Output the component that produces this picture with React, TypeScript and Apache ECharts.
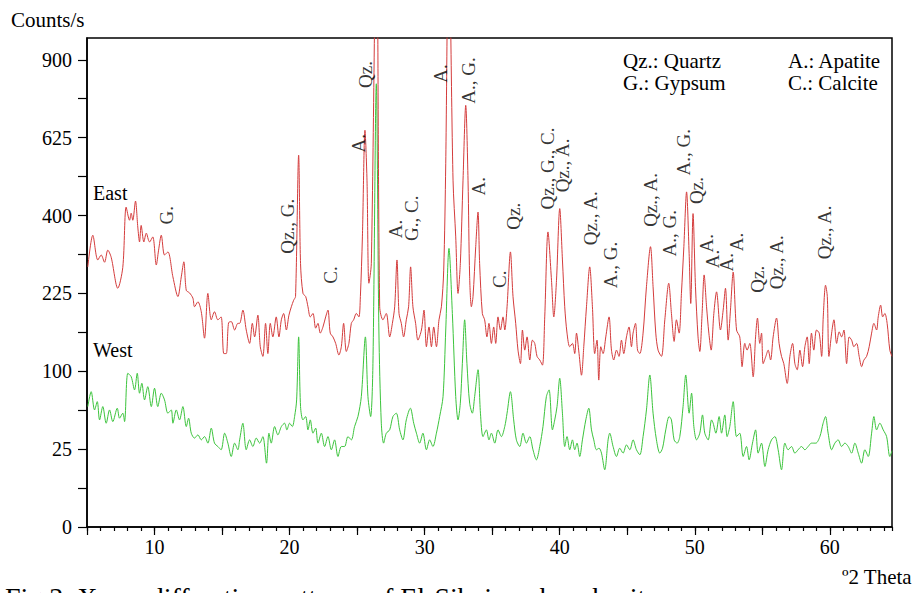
import React, { useEffect, useRef } from "react";
import * as echarts from "echarts";

// 2θ (degrees) , counts per second — East sample (red)
const eastPattern: [number, number][] = [
  [5.06, 279], [5.43, 351], [5.8, 294], [6.05, 305], [6.3, 289], [6.54, 316], [6.79, 300], [7.28, 235], [7.65, 278], [7.9, 422],
  [8.15, 388], [8.27, 406], [8.39, 388], [8.59, 438], [8.76, 371], [8.89, 335], [9.01, 375], [9.21, 335], [9.39, 356], [9.63, 335],
  [9.87, 347], [10.13, 283], [10.3, 316], [10.5, 351], [10.74, 305], [10.99, 312], [11.36, 258], [11.73, 219], [11.98, 258], [12.17, 290],
  [12.35, 231], [12.59, 226], [12.84, 216], [12.96, 200], [13.21, 209], [13.46, 191], [13.7, 147], [13.95, 225], [14.2, 177], [14.44, 191],
  [14.69, 177], [14.93, 182], [15.13, 124], [15.31, 124], [15.48, 172], [15.68, 174], [15.93, 160], [16.17, 171],
  [16.3, 171], [16.54, 194], [16.79, 160], [17.04, 139], [17.24, 171], [17.41, 149], [17.65, 185], [17.83, 134], [18.02, 120], [18.22, 171],
  [18.39, 124], [18.57, 171], [18.76, 149], [19.01, 182], [19.21, 149], [19.39, 177], [19.56, 188], [19.76, 160], [19.95, 185], [20.13, 200],
  [20.3, 212], [20.44, 219], [20.67, 570], [20.81, 286], [20.99, 225], [21.19, 219], [21.36, 200], [21.53, 182], [21.73, 188], [21.93, 163],
  [22.1, 171], [22.27, 155], [22.47, 165], [22.67, 182], [22.84, 194], [23.01, 155], [23.21, 149], [23.41, 139], [23.65, 122], [23.83, 134],
  [24.0, 171], [24.2, 127], [24.39, 139], [24.57, 171], [24.74, 177], [24.94, 188], [25.13, 182], [25.24, 219], [25.39, 347], [25.58, 649],
  [25.73, 496], [25.87, 245], [26.05, 286], [26.44, 1600], [26.67, 200], [26.91, 177], [27.16, 188],
  [27.41, 149], [27.61, 171], [27.78, 200], [27.95, 294], [28.1, 188], [28.27, 171], [28.44, 149], [28.64, 177], [28.81, 200], [28.96, 279],
  [29.13, 200], [29.33, 171], [29.5, 144], [29.76, 160], [29.95, 194], [30.13, 134], [30.32, 165], [30.5, 134], [30.67, 165], [30.87, 134],
  [31.06, 177], [31.24, 200], [31.41, 272], [31.56, 544], [31.78, 1500], [32.1, 496], [32.3, 347], [32.47, 225], [32.64, 286], [32.84, 496],
  [33.04, 733], [33.21, 496], [33.33, 258], [33.46, 200], [33.58, 219], [33.78, 324], [33.95, 409], [34.07, 286], [34.27, 188], [34.44, 177],
  [34.61, 149], [34.76, 171], [34.94, 139], [35.11, 165], [35.26, 139], [35.43, 182], [35.61, 160], [35.8, 182], [35.93, 160], [36.1, 200],
  [36.35, 312], [36.54, 219], [36.74, 171], [36.91, 129], [37.09, 110], [37.24, 160], [37.41, 129], [37.58, 149], [37.78, 115], [37.98, 144],
  [38.15, 139], [38.32, 120], [38.52, 115], [38.72, 108], [38.89, 182], [39.13, 359],
  [39.39, 251], [39.56, 182], [39.76, 251], [40.0, 418], [40.2, 294], [40.37, 200], [40.54, 155], [40.74, 134], [40.94, 139], [41.11, 124],
  [41.24, 155], [41.43, 124], [41.61, 95], [41.78, 134], [41.98, 200], [42.22, 279], [42.42, 200], [42.59, 124], [42.76, 144], [42.89, 89],
  [43.04, 134], [43.21, 124], [43.41, 149], [43.65, 182], [43.83, 129], [44.0, 115], [44.2, 129], [44.39, 120], [44.57, 144], [44.74, 124],
  [44.94, 149], [45.13, 165], [45.31, 134], [45.43, 155], [45.61, 171], [45.76, 129], [45.93, 124], [46.17, 155], [46.42, 238], [46.72, 324],
  [46.91, 238], [47.11, 155], [47.28, 129], [47.53, 120], [47.78, 177], [48.07, 245], [48.27, 188], [48.47, 142], [48.64, 177], [48.84, 155],
  [49.01, 225], [49.19, 324], [49.39, 463], [49.58, 308], [49.7, 206], [49.87, 405], [50.05, 238], [50.24, 149], [50.37, 127], [50.54, 188],
  [50.69, 262], [50.87, 200], [51.04, 155], [51.21, 129], [51.41, 188], [51.61, 228],
  [51.9, 160], [52.1, 194], [52.27, 235], [52.47, 144], [52.64, 194], [52.84, 268], [53.09, 160], [53.33, 149], [53.5, 106], [53.7, 139],
  [53.87, 129], [54.07, 139], [54.32, 93], [54.5, 149], [54.64, 180], [54.81, 139], [54.94, 155], [55.06, 110], [55.26, 120], [55.43, 129],
  [55.61, 115], [55.8, 149], [56.05, 180], [56.24, 139], [56.42, 120], [56.59, 110], [56.84, 85], [57.04, 120], [57.24, 139], [57.41, 110],
  [57.58, 102], [57.78, 129], [57.98, 106], [58.15, 134], [58.32, 149], [58.47, 110], [58.64, 155], [58.81, 129], [59.01, 160], [59.21, 155],
  [59.39, 120], [59.51, 182], [59.68, 241], [59.81, 219], [59.93, 120], [60.13, 155], [60.3, 177], [60.5, 139], [60.69, 157], [60.87, 149],
  [61.04, 160], [61.24, 110], [61.43, 149], [61.61, 144], [61.78, 134], [61.98, 139], [62.17, 120], [62.35, 106], [62.52, 115], [62.72, 120],
  [62.91, 134], [63.09, 155], [63.26, 171], [63.46, 160], [63.58, 182], [63.76, 203], [63.91, 182], [64.07, 188], [64.24, 171], [64.44, 129],
  [64.6, 120],
];

// 2θ (degrees) , counts per second — West sample (green)
const westPattern: [number, number][] = [
  [5.06, 59.8], [5.31, 75.5], [5.56, 56.5], [5.76, 64.8], [5.93, 47.3], [6.17, 59.8], [6.42, 44.4], [6.67, 56.5], [6.91, 45.8], [7.24, 58.2],
  [7.41, 48.8], [7.65, 53.4], [7.78, 45.8], [8.02, 97.4], [8.27, 93.2], [8.52, 77.5], [8.72, 97.4], [8.89, 73.8], [9.06, 85.2], [9.26, 66.6],
  [9.5, 81.2], [9.76, 59.8], [10.0, 79.4], [10.24, 59.8], [10.5, 73.8], [10.74, 66.6], [10.99, 53.4], [11.24, 56.5], [11.36, 44.4], [11.61, 56.5],
  [11.85, 47.3], [12.1, 59.8], [12.35, 41.6], [12.52, 48.8], [12.72, 36.3], [12.96, 32.6], [13.21, 35], [13.46, 31.3], [13.7, 33.7], [13.95, 29],
  [14.2, 40.3], [14.44, 29], [14.69, 26.7], [14.93, 24.6], [15.19, 36.3], [15.43, 29], [15.68, 20.5], [15.93, 29], [16.17, 24.6],
  [16.3, 31.3], [16.54, 44.4], [16.79, 24.6], [17.04, 31.3], [17.28, 26.7], [17.53, 32.6], [17.78, 29], [18.02, 33.7], [18.29, 16.8], [18.47, 36.3],
  [18.64, 29], [18.89, 41.6], [19.13, 35], [19.39, 41.6], [19.63, 44.4], [19.8, 38.9], [20.0, 44.4], [20.2, 41.6], [20.37, 50.3], [20.52, 66.6],
  [20.67, 149], [20.81, 59.8], [20.99, 47.3], [21.19, 50.3], [21.36, 38.9], [21.53, 47.3], [21.73, 36.3], [21.93, 40.3], [22.1, 29], [22.35, 36.3],
  [22.59, 26.7], [22.84, 33.7], [23.09, 24.6], [23.33, 31.3], [23.58, 20.5], [23.83, 26.7], [24.07, 26.7], [24.32, 33.7], [24.57, 31.3], [24.81, 41.6],
  [25.06, 50.3], [25.31, 70.1], [25.61, 149], [25.8, 70.1], [26.0, 50.3], [26.17, 110], [26.42, 810], [26.61, 160], [26.79, 44.4], [26.96, 29],
  [27.16, 36.3], [27.41, 38.9], [27.65, 50.3], [27.9, 53.4], [28.15, 38.9], [28.39, 31.3], [28.64, 47.3], [28.94, 58.2], [29.19, 44.4], [29.39, 36.3],
  [29.63, 29], [29.87, 36.3], [30.13, 24.6], [30.37, 31.3], [30.61, 26.7], [30.87, 36.3], [31.11, 50.3], [31.36, 70.1], [31.56, 160], [31.8, 320],
  [32.05, 188], [32.3, 70.1], [32.47, 47.3], [32.64, 63.2], [32.79, 110], [32.96, 177], [33.13, 110], [33.33, 63.2], [33.53, 53.4], [33.7, 70.1],
  [33.95, 102], [34.13, 53.4], [34.32, 33.7], [34.57, 38.9], [34.76, 31.3], [34.94, 36.3], [35.19, 29], [35.43, 38.9], [35.68, 33.7], [35.93, 41.6],
  [36.1, 53.4], [36.35, 75.5], [36.59, 47.3], [36.79, 31.3], [37.04, 26.7], [37.28, 36.3], [37.53, 29], [37.78, 33.7], [38.02, 24.6], [38.27, 18.6],
  [38.52, 26.7], [38.76, 41.6], [39.01, 70.1], [39.21, 77.5],
  [39.46, 38.9], [39.63, 47.3], [39.8, 59.8], [40.0, 91.2], [40.2, 53.4], [40.37, 26.7], [40.54, 33.7], [40.74, 24.6], [40.94, 31.3], [41.11, 24.6],
  [41.28, 29], [41.48, 20.5], [41.68, 31.3], [41.93, 47.3], [42.15, 58.2], [42.35, 38.9], [42.52, 31.3], [42.72, 24.6], [42.91, 25.6], [43.09, 22.5],
  [43.33, 13.5], [43.58, 31.3], [43.7, 36.3], [43.95, 26.7], [44.2, 20.5], [44.44, 25.6], [44.69, 22.5], [44.94, 27.8], [45.19, 24.6], [45.43, 31.3],
  [45.68, 24.6], [45.93, 21.5], [46.17, 33.7], [46.42, 56.5], [46.67, 95.3], [46.91, 53.4], [47.16, 31.3], [47.41, 22.5], [47.61, 25.6], [47.85, 38.9],
  [48.1, 50.3], [48.27, 47.3], [48.47, 31.3], [48.69, 29], [48.89, 33.7], [49.13, 59.8], [49.33, 95.3], [49.58, 53.4], [49.76, 73.8], [49.93, 41.6],
  [50.13, 31.3], [50.37, 36.3], [50.57, 51.8], [50.74, 36.3], [50.99, 31.3], [51.24, 47.3],
  [51.36, 44.4], [51.56, 36.3], [51.8, 50.3], [51.98, 36.3], [52.22, 51.8], [52.39, 33.7], [52.59, 41.6], [52.84, 64.8], [53.09, 33.7], [53.33, 36.3],
  [53.58, 20.5], [53.83, 26.7], [54.02, 18.6], [54.27, 29], [54.5, 38.9], [54.69, 22.5], [54.94, 29], [55.19, 15.1], [55.43, 24.6], [55.68, 31.3],
  [55.93, 33.7], [56.17, 24.6], [56.42, 13.5], [56.67, 29], [56.91, 24.6], [57.16, 26.7], [57.41, 22.5], [57.65, 24.6], [57.9, 26.7], [58.15, 24.6],
  [58.39, 26.7], [58.64, 29], [58.96, 29], [59.26, 33.7], [59.5, 44.4], [59.68, 50.3], [59.87, 36.3], [60.13, 24.6], [60.37, 29], [60.61, 31.3],
  [60.87, 26.7], [61.11, 29], [61.36, 26.7], [61.61, 22.5], [61.85, 29], [62.1, 22.5], [62.35, 16.8], [62.59, 24.6], [62.84, 20.5], [63.09, 36.3],
  [63.26, 50.3], [63.46, 38.9], [63.7, 44.4], [63.95, 38.9], [64.2, 33.7], [64.44, 20.5], [64.6, 24],
];

// phase identification labels: [text, 2θ, counts level of the label centre]
const phaseLabels: [string, number, number][] = [
  ["G.", 10.89, 401],
  ["Qz., G.", 19.85, 373],
  ["C.", 23.04, 262],
  ["A.", 25.11, 607],
  ["Qz.", 25.63, 844],
  ["A.", 27.85, 366],
  ["G., C.", 29.04, 393],
  ["A.", 31.19, 848],
  ["A., G.", 33.26, 822],
  ["A.", 34.0, 479],
  ["C.", 35.56, 253],
  ["Qz.", 36.59, 398],
  ["Qz., G., C.", 39.11, 530],
  ["Qz., A.", 40.22, 539],
  ["Qz., A.", 42.3, 393],
  ["A., G.", 43.78, 283],
  ["Qz., A.", 46.74, 441],
  ["A., G.", 48.15, 356],
  ["A., G.", 49.19, 579],
  ["Qz.", 50.15, 467],
  ["A.", 50.89, 332],
  ["A.", 51.33, 296],
  ["A.", 52.33, 289],
  ["A.", 53.11, 335],
  ["Qz.", 54.67, 253],
  ["Qz., A.", 56.07, 289],
  ["Qz., A.", 59.63, 358],
];

const yTickCounts = [0, 25, 100, 225, 400, 625, 900];
const yMinorTickCounts = [6.25, 56.25, 156.25, 306.25, 506.25, 756.25];
const xMajorTicks = [5, 10, 15, 20, 25, 30, 35, 40, 45, 50, 55, 60];
const xTickLabels = [10, 20, 30, 40, 50, 60];
const legendLeft = ["Qz.: Quartz", "G.: Gypsum"];
const legendRight = ["A.: Apatite", "C.: Calcite"];

const FONT = "Liberation Serif";

export default function App() {
  const ref = useRef<HTMLDivElement>(null);

  useEffect(() => {
    document.body.style.margin = "0";
    const el = ref.current;
    if (!el) return;
    const chart = echarts.init(el, null, { renderer: "svg" });
    const sq = (c: number) => Math.sqrt(c);
    const yTicks = [...yTickCounts, ...yMinorTickCounts].map(sq).sort((a, b) => a - b);
    const black = "#000";
    const txt = (text: string, size: number) => ({ text, fontSize: size, fontFamily: FONT, fill: black });

    chart.setOption({
      animation: false,
      backgroundColor: "#fff",
      textStyle: { fontFamily: FONT },
      grid: {
        left: 87,
        right: 23,
        top: 38,
        bottom: 66,
        show: true,
        borderColor: black,
        borderWidth: 1.5,
        backgroundColor: "transparent",
      },
      xAxis: [
        {
          type: "value",
          min: 5,
          max: 64.6,
          interval: 1,
          position: "bottom",
          axisLine: { show: true, onZero: false, lineStyle: { color: black, width: 1.5 } },
          axisTick: { show: true, length: 4, lineStyle: { color: black, width: 1.2 } },
          axisLabel: { show: false },
          splitLine: { show: false },
        },
        {
          type: "value",
          min: 5,
          max: 64.6,
          interval: 5,
          position: "bottom",
          axisLine: { show: false, onZero: false },
          axisTick: { show: true, length: 8, customValues: xMajorTicks, lineStyle: { color: black, width: 1.2 } },
          axisLabel: {
            show: true,
            customValues: xTickLabels,
            margin: 10,
            color: black,
            fontSize: 20,
            fontFamily: FONT,
            formatter: (v: number) => (xTickLabels.indexOf(Math.round(v)) >= 0 && Math.abs(v - Math.round(v)) < 1e-6 ? String(Math.round(v)) : ""),
          },
          splitLine: { show: false },
        },
      ],
      yAxis: {
        type: "value",
        min: 0,
        max: 31.4,
        interval: 2.5,
        axisLine: { show: true, onZero: false, lineStyle: { color: black, width: 1.5 } },
        axisTick: { show: true, length: 9, customValues: yTicks, lineStyle: { color: black, width: 1.2 } },
        axisLabel: {
          customValues: yTickCounts.map(sq),
          margin: 15,
          color: black,
          fontSize: 20,
          fontFamily: FONT,
          formatter: (v: number) => {
            const c = Math.round(v * v);
            return yTickCounts.indexOf(c) >= 0 && Math.abs(v * v - c) < 1e-4 ? String(c) : "";
          },
        },
        splitLine: { show: false },
      },
      series: [
        {
          name: "East",
          type: "line",
          xAxisIndex: 0,
          data: eastPattern.map(([t, c]) => [t, sq(c)]),
          showSymbol: false,
          smooth: 0.3,
          clip: true,
          lineStyle: { color: "#d43c3c", width: 1 },
          itemStyle: { color: "#d43c3c" },
          z: 3,
        },
        {
          name: "West",
          type: "line",
          xAxisIndex: 0,
          data: westPattern.map(([t, c]) => [t, sq(c)]),
          showSymbol: false,
          smooth: 0.3,
          clip: true,
          lineStyle: { color: "#3cc43c", width: 1 },
          itemStyle: { color: "#3cc43c" },
          z: 2,
        },
        {
          name: "phases",
          type: "scatter",
          xAxisIndex: 0,
          symbolSize: 0.1,
          itemStyle: { color: "rgba(0,0,0,0)" },
          silent: true,
          data: phaseLabels.map(([text, t, c]) => ({ name: text, value: [t, sq(c)] })),
          label: {
            show: true,
            position: "inside",
            rotate: 90,
            formatter: "{b}",
            color: black,
            fontSize: 19,
            fontFamily: FONT,
          },
          z: 5,
        },
      ],
      graphic: [
        { type: "text", left: 11, top: 9, style: txt("Counts/s", 21) },
        { type: "text", left: 93, top: 183, style: txt("East", 20) },
        { type: "text", left: 93, top: 340, style: txt("West", 20) },
        { type: "text", left: 623, top: 50, style: txt(legendLeft[0], 21) },
        { type: "text", left: 623, top: 72, style: txt(legendLeft[1], 21) },
        { type: "text", left: 788, top: 50, style: txt(legendRight[0], 21) },
        { type: "text", left: 788, top: 72, style: txt(legendRight[1], 21) },
        { type: "text", right: 3, top: 566, style: txt("º2 Theta", 21) },
        { type: "text", left: 5, top: 583, style: txt("Fig.3. X-ray diffraction patterns of El-Sibaiya phosphorites", 28) },
      ],
    });

    return () => {
      chart.dispose();
    };
  }, []);

  return <div ref={ref} style={{ width: 915, height: 593 }} />;
}
